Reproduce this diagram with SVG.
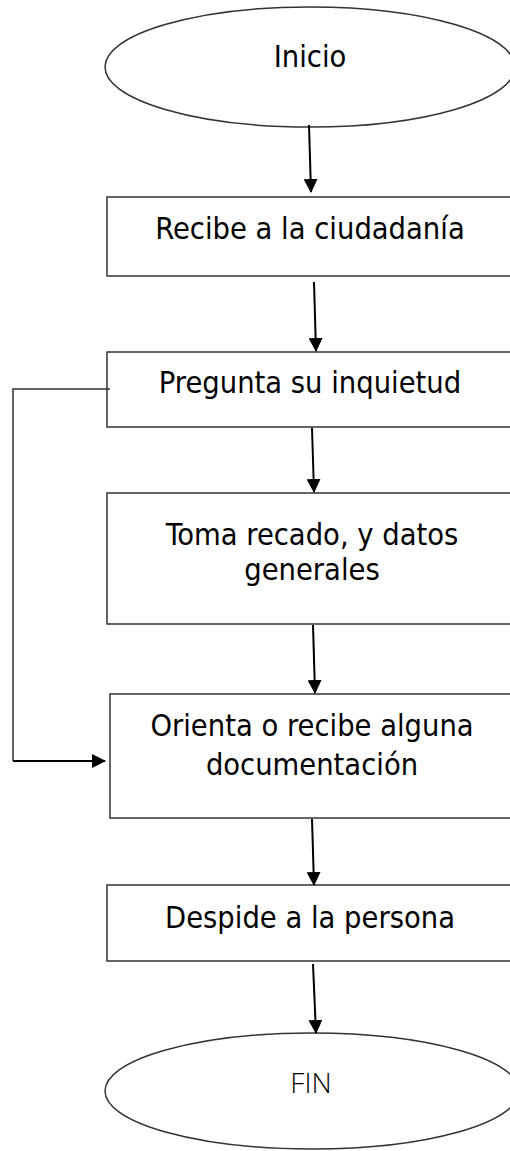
<svg xmlns="http://www.w3.org/2000/svg" width="510" height="1151" viewBox="0 0 510 1151">
<defs>
<marker id="ah" markerWidth="14" markerHeight="14" viewBox="0 0 14 14" refX="13" refY="7" orient="auto" markerUnits="userSpaceOnUse">
<path d="M0,0 L14,7 L0,14 Z" fill="#000"/>
</marker>
<style>
.shape{fill:#fff;stroke:#333;stroke-width:1.5}
.t{font-family:"DejaVu Sans Condensed","DejaVu Sans",sans-serif;font-stretch:condensed;font-size:30.5px;fill:#000;text-anchor:middle}
.fin{font-family:"Open Sans","Liberation Sans",sans-serif;font-weight:300;font-size:28px;fill:#000;text-anchor:middle}
.c{fill:none;stroke:#000;stroke-width:2}
.loop{fill:none;stroke:#333;stroke-width:1.5}
</style>
</defs>
<rect width="510" height="1151" fill="#fff"/>
<g id="inicio">
<ellipse class="shape" cx="310" cy="67" rx="205" ry="60"/>
<text class="t" x="310" y="67">Inicio</text>
</g>
<g id="recibe">
<rect class="shape" x="107" y="197" width="410" height="79"/>
<text class="t" x="310" y="239">Recibe a la ciudadanía</text>
</g>
<g id="pregunta">
<rect class="shape" x="107" y="352" width="410" height="75"/>
<text class="t" x="310" y="393">Pregunta su inquietud</text>
</g>
<g id="toma">
<rect class="shape" x="107" y="493" width="410" height="131"/>
<text class="t" x="312" y="545">Toma recado, y datos</text>
<text class="t" x="312" y="580">generales</text>
</g>
<g id="orienta">
<rect class="shape" x="110" y="694" width="410" height="124"/>
<text class="t" x="312" y="736">Orienta o recibe alguna</text>
<text class="t" x="312" y="775">documentación</text>
</g>
<g id="despide">
<rect class="shape" x="107" y="885" width="410" height="76"/>
<text class="t" x="310" y="928">Despide a la persona</text>
</g>
<g id="fin">
<ellipse class="shape" cx="312" cy="1091" rx="207" ry="58"/>
<text class="fin" x="311" y="1093">FIN</text>
</g>
<g id="connectors">
<path class="c" d="M309,125 L311,192" marker-end="url(#ah)"/>
<path class="c" d="M314,282 L316,351" marker-end="url(#ah)"/>
<path class="c" d="M312,428 L314,492" marker-end="url(#ah)"/>
<path class="c" d="M313,625 L315,693" marker-end="url(#ah)"/>
<path class="c" d="M312,819 L314,885" marker-end="url(#ah)"/>
<path class="c" d="M313,964 L316,1033" marker-end="url(#ah)"/>
<path class="loop" d="M110,389 L13,389 L13,761"/>
<path class="c" d="M13,761 L105,761" marker-end="url(#ah)"/>
</g>
</svg>
